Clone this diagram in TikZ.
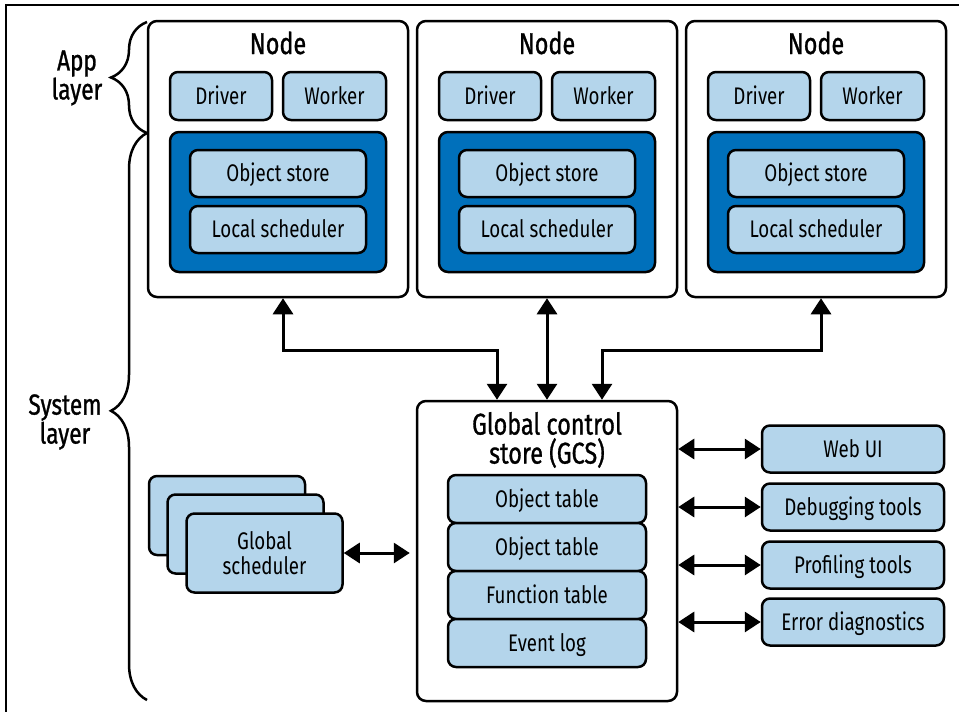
\documentclass[tikz,border=0pt]{standalone}
\usepackage{fontspec}
\setmainfont{Fira Sans}[FakeStretch=0.78]
\newfontfamily\headfont{Fira Sans}[FakeStretch=0.78, FakeBold=1]
\usetikzlibrary{arrows.meta,decorations.pathreplacing}
\definecolor{paleblue}{HTML}{B4D5EB}
\definecolor{rayblue}{HTML}{0070BB}

\begin{document}
\begin{tikzpicture}[x=1pt, y=-1pt,
    outer/.style={draw, line width=2.5pt, rounded corners=9pt, fill=white, inner sep=0pt},
    store/.style={draw, line width=2.5pt, rounded corners=9pt, fill=rayblue, inner sep=0pt},
    part/.style={draw, line width=2.5pt, rounded corners=8pt, fill=paleblue, inner sep=0pt,
      text height=16.5pt, text depth=0pt, font=\fontsize{24}{26}\selectfont},
    card/.style={draw, line width=2.5pt, rounded corners=8pt, fill=paleblue, inner sep=0pt,
      align=center, font=\fontsize{24}{25}\selectfont},
    head/.style={font=\headfont\fontsize{30}{29}\selectfont, align=center},
    side/.style={font=\headfont\fontsize{29}{27}\selectfont, align=center},
    link/.style={line width=3pt, {Triangle[length=16pt,width=20pt]}-{Triangle[length=16pt,width=20pt]}},
    layerbrace/.style={line width=2.5pt, decorate, decoration={brace, amplitude=36pt}}]
    \useasboundingbox (0,0) rectangle (959,712);
    \draw[line width=1.5pt] (6,712) -- (6,5) -- (959,5);

    % first node
    \node[outer, minimum width=260pt, minimum height=276pt] (n1) at (278,159) {};
    \node[head, anchor=base] (n1t) at (278,54) {Node};
    \node[part, minimum width=102pt, minimum height=48pt] (d1) at (221,96) {Driver};
    \node[part, minimum width=103pt, minimum height=48pt] (w1) at (334.5,96) {Worker};
    \node[store, minimum width=216pt, minimum height=140pt] (s1) at (278,202) {};
    \node[part, minimum width=176pt, minimum height=47pt] (o1) at (278,173.5) {Object store};
    \node[part, minimum width=176pt, minimum height=47pt] (l1) at (278,229.5) {Local scheduler};

    % second node
    \node[outer, minimum width=260pt, minimum height=276pt] (n2) at (547,159) {};
    \node[head, anchor=base] (n2t) at (547,54) {Node};
    \node[part, minimum width=102pt, minimum height=48pt] (d2) at (490,96) {Driver};
    \node[part, minimum width=103pt, minimum height=48pt] (w2) at (603.5,96) {Worker};
    \node[store, minimum width=216pt, minimum height=140pt] (s2) at (547,202) {};
    \node[part, minimum width=176pt, minimum height=47pt] (o2) at (547,173.5) {Object store};
    \node[part, minimum width=176pt, minimum height=47pt] (l2) at (547,229.5) {Local scheduler};

    % third node
    \node[outer, minimum width=260pt, minimum height=276pt] (n3) at (816,159) {};
    \node[head, anchor=base] (n3t) at (816,54) {Node};
    \node[part, minimum width=102pt, minimum height=48pt] (d3) at (759,96) {Driver};
    \node[part, minimum width=103pt, minimum height=48pt] (w3) at (872.5,96) {Worker};
    \node[store, minimum width=216pt, minimum height=140pt] (s3) at (816,202) {};
    \node[part, minimum width=176pt, minimum height=47pt] (o3) at (816,173.5) {Object store};
    \node[part, minimum width=176pt, minimum height=47pt] (l3) at (816,229.5) {Local scheduler};

    % global control store
    \node[outer, minimum width=260pt, minimum height=300pt] (gcs) at (547,551) {};
    \node[head] (gcst) at (547,440) {Global control\\store (GCS)};
    \node[part, minimum width=198pt, minimum height=48pt] (tab1) at (547,499) {Object table};
    \node[part, minimum width=198pt, minimum height=48pt] (tab2) at (547,547) {Object table};
    \node[part, minimum width=198pt, minimum height=48pt] (tab3) at (547,595) {Function table};
    \node[part, minimum width=198pt, minimum height=48pt] (tab4) at (547,643) {Event log};

    % tools
    \node[part, minimum width=182pt, minimum height=47pt] (web) at (853,449) {Web UI};
    \node[part, minimum width=182pt, minimum height=47pt] (dbg) at (853,507) {Debugging tools};
    \node[part, minimum width=182pt, minimum height=47pt] (prof) at (853,565) {Profiling tools};
    \node[part, minimum width=182pt, minimum height=47pt] (err) at (853,622) {Error diagnostics};

    % global scheduler stack
    \node[card, minimum width=156pt, minimum height=79pt] (gs3) at (227,515.5) {};
    \node[card, minimum width=156pt, minimum height=79pt] (gs2) at (245.5,534) {};
    \node[card, minimum width=156pt, minimum height=79pt] (gs1) at (264.5,553) {Global\\scheduler};

    \draw[link] ([xshift=5pt]n1.south) -- ++(0,52) -| ([xshift=-50pt]gcs.north);
    \draw[link] (n2.south) -- (gcs.north);
    \draw[link] ([xshift=5pt]n3.south) -- ++(0,52) -| ([xshift=55pt]gcs.north);
    \draw[link, shorten >=6pt] (gs1.east) -- (gs1.east -| gcs.west);
    \draw[link] (gcs.east |- web.west) -- (web.west);
    \draw[link] (gcs.east |- dbg.west) -- (dbg.west);
    \draw[link] (gcs.east |- prof.west) -- (prof.west);
    \draw[link] (gcs.east |- err.west) -- (err.west);

    \draw[layerbrace] (147,133) -- (147,22);
    \draw[layerbrace, decoration={aspect=0.51}] (147,700) -- (147,133);
    \node[side] (app) at (77,78) {App\\layer};
    \node[side] (sys) at (65,422) {System\\layer};
  \end{tikzpicture}
\end{document}
